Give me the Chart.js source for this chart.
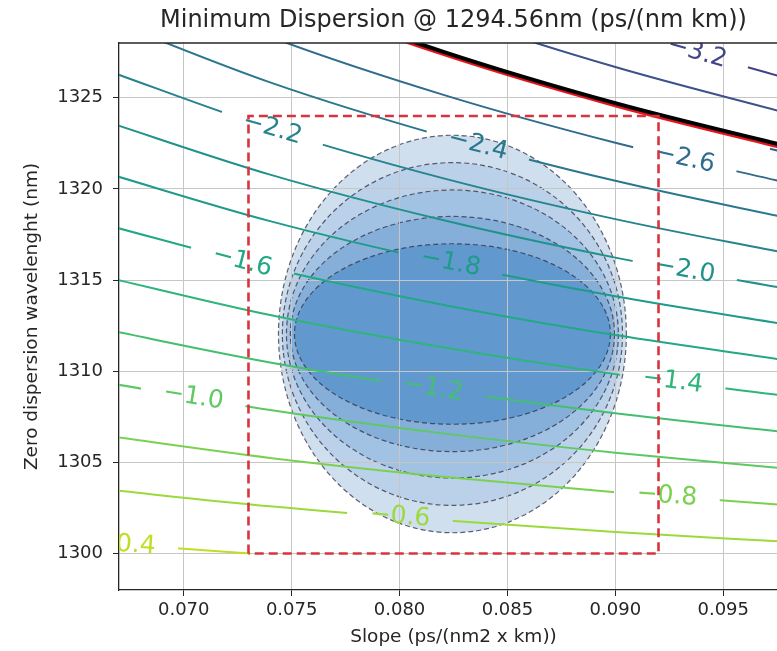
<!DOCTYPE html>
<html><head><meta charset="utf-8">
<script src="https://cdn.jsdelivr.net/npm/chart.js@4.4.1/dist/chart.umd.min.js"></script>
<style>
html,body{margin:0;padding:0;background:#fff;overflow:hidden;width:777px;height:651px}
#wrap{position:relative;width:790px;height:651px}
</style></head>
<body><div id="wrap"><canvas id="c" width="790" height="651" style="width:790px;height:651px"></canvas></div>
<script>
// ---- axis ticks ----
const slopeTicks = [0.070, 0.075, 0.080, 0.085, 0.090, 0.095];
const zdwTicks = [1300, 1305, 1310, 1315, 1320, 1325];

// ---- contour lines of dispersion (zero-dispersion wavelength read at these slopes) ----
const slopes = [0.066, 0.074, 0.082, 0.090, 0.098];
const slopes04 = [0.066, 0.070, 0.0731];
const lvl_0_4 = [1300.58, 1300.26, 1300.00];
const lvl_0_6 = [1303.56, 1302.59, 1301.82, 1301.18, 1300.64];
const lvl_0_8 = [1306.52, 1305.24, 1304.21, 1303.36, 1302.65];
const lvl_1_0 = [1309.45, 1307.87, 1306.59, 1305.53, 1304.65];
const lvl_1_2 = [1312.37, 1310.48, 1308.95, 1307.69, 1306.64];
const lvl_1_4 = [1315.27, 1313.08, 1311.31, 1309.84, 1308.62];
const lvl_1_6 = [1318.15, 1315.66, 1313.65, 1311.98, 1310.59];
const lvl_1_8 = [1321.01, 1318.23, 1315.97, 1314.11, 1312.55];
const lvl_2_0 = [1323.85, 1320.78, 1318.29, 1316.23, 1314.50];
const lvl_2_2 = [1326.68, 1323.32, 1320.59, 1318.34, 1316.45];
const lvl_2_4 = [1329.49, 1325.84, 1322.89, 1320.44, 1318.39];
const lvl_2_6 = [1332.28, 1328.34, 1325.17, 1322.53, 1320.32];
const lvl_2_8 = [1335.04, 1330.84, 1327.44, 1324.61, 1322.23];
const lvl_3_0 = [1337.81, 1333.32, 1329.69, 1326.68, 1324.14];
const lvl_3_2 = [1340.54, 1335.80, 1331.93, 1328.74, 1326.05];
const levelValues = [-0.4, -0.6, -0.8, -1.0, -1.2, -1.4, -1.6, -1.8, -2.0, -2.2, -2.4, -2.6, -2.8, -3.0, -3.2];
const levelColors = ['#bddf26', '#9bd93c', '#7ad151', '#5ec962', '#44bf70', '#2fb47c', '#22a884', '#1e9c89',
                     '#21918c', '#25848e', '#2a788e', '#2f6c8e', '#355f8d', '#3b528b', '#414487'];

// ---- spec limit line (red under black) ----
const limitRed = [1335.04, 1330.84, 1327.44, 1324.61, 1322.23];
const limitBlack = [1335.13, 1330.93, 1327.53, 1324.70, 1322.32];

// ---- red dashed box ----
const boxSlope = [0.073, 0.073, 0.092, 0.092, 0.073];
const boxZdw = [1300, 1324, 1324, 1300, 1300];

// ---- filled density blob (nested ellipses, outer to inner) ----
const blobSlope = 0.08245;
const blobZdw = 1312.04;
const blobRx = [0.00806, 0.00788, 0.00769, 0.00751, 0.00732];
const blobRy = [10.9, 9.4, 7.9, 6.45, 4.95];
const blobFill = ['#d0dfed', '#bad1e9', '#a1c2e2', '#85afd9', '#6199cf'];

// ---- inline contour labels ----
const labelLevel = [-0.4, -0.6, -0.8, -1.0, -1.2, -1.4, -1.6, -1.8, -2.0, -2.2, -2.4, -2.6, -2.8, -3.2];
const labelSlope = [0.06729, 0.08002, 0.09239, 0.07044, 0.08155, 0.09266, 0.07271, 0.08236, 0.09322, 0.07410, 0.08363, 0.09322, 0.09840, 0.09378];
const labelZdw = [1300.48, 1302.01, 1303.15, 1308.57, 1309.04, 1309.43, 1316.00, 1315.93, 1315.53, 1323.29, 1322.39, 1321.64, 1321.75, 1327.47];

const FONT = 'DejaVu Sans';
Chart.defaults.font.family = FONT;

const levelSeries = [lvl_0_4, lvl_0_6, lvl_0_8, lvl_1_0, lvl_1_2, lvl_1_4, lvl_1_6, lvl_1_8, lvl_2_0, lvl_2_2, lvl_2_4, lvl_2_6, lvl_2_8, lvl_3_0, lvl_3_2];
const levelX = levelSeries.map((s, i) => i === 0 ? slopes04 : slopes);

const datasets = levelSeries.map((ys, i) => ({
  label: 'D ' + levelValues[i],
  data: ys.map((y, j) => ({x: levelX[i][j], y})),
  showLine: true, borderColor: levelColors[i], borderWidth: 2,
  pointRadius: 0, pointHoverRadius: 0, cubicInterpolationMode: 'monotone', order: 10
}));
const NC = datasets.length;
datasets.push({label: 'limit red', data: limitRed.map((y, j) => ({x: slopes[j], y})), showLine: true,
  borderColor: '#e3161e', borderWidth: 5, pointRadius: 0, cubicInterpolationMode: 'monotone', order: 3});
datasets.push({label: 'limit black', data: limitBlack.map((y, j) => ({x: slopes[j], y})), showLine: true,
  borderColor: '#000000', borderWidth: 4, pointRadius: 0, cubicInterpolationMode: 'monotone', order: 2});
datasets.push({label: 'box', data: boxZdw.map((y, j) => ({x: boxSlope[j], y})), showLine: true,
  borderColor: '#d8343f', borderWidth: 2.6, borderDash: [9, 5], pointRadius: 0, tension: 0, order: 1});
const RED_IDX = NC;

function labelGeom(chart) {
  const xs = chart.scales.x, ys = chart.scales.y;
  return labelLevel.map((lv, k) => {
    const li = levelValues.indexOf(lv);
    const x = xs.getPixelForValue(labelSlope[k]);
    const y = ys.getPixelForValue(labelZdw[k]);
    const pts = chart.getDatasetMeta(li).data;
    let a = 0;
    for (let j = 0; j < pts.length - 1; j++) {
      if ((x >= pts[j].x && x <= pts[j + 1].x) || j === pts.length - 2) {
        a = Math.atan2(pts[j + 1].y - pts[j].y, pts[j + 1].x - pts[j].x); break;
      }
    }
    return {x, y, a, text: '\u2212' + Math.abs(lv).toFixed(1), color: levelColors[li], gap: lv !== -2.8};
  });
}

const deco = {
  id: 'deco',
  beforeDraw(chart) {
    const ctx = chart.ctx, xs = chart.scales.x, ys = chart.scales.y, ca = chart.chartArea;
    const cx = xs.getPixelForValue(blobSlope), cy = ys.getPixelForValue(blobZdw);
    ctx.save();
    ctx.beginPath(); ctx.rect(ca.left, ca.top, ca.right - ca.left, ca.bottom - ca.top); ctx.clip();
    for (let i = 0; i < blobRx.length; i++) {
      const rx = xs.getPixelForValue(blobSlope + blobRx[i]) - cx;
      const ry = cy - ys.getPixelForValue(blobZdw + blobRy[i]);
      ctx.beginPath(); ctx.ellipse(cx, cy, rx, ry, 0, 0, Math.PI * 2);
      ctx.fillStyle = blobFill[i]; ctx.fill();
    }
    ctx.setLineDash([5, 3]); ctx.lineWidth = 1.2; ctx.strokeStyle = 'rgba(45,45,70,0.75)';
    for (let i = 0; i < blobRx.length; i++) {
      const rx = xs.getPixelForValue(blobSlope + blobRx[i]) - cx;
      const ry = cy - ys.getPixelForValue(blobZdw + blobRy[i]);
      ctx.beginPath(); ctx.ellipse(cx, cy, rx, ry, 0, 0, Math.PI * 2); ctx.stroke();
    }
    ctx.restore();
  },
  beforeDatasetDraw(chart, args) {
    const ctx = chart.ctx;
    if (args.index < NC) {
      const geo = labelGeom(chart);
      ctx.save();
      ctx.beginPath();
      ctx.rect(-10, -10, chart.width + 20, chart.height + 20);
      geo.forEach(g => {
        if (!g.gap) return;
        const c = Math.cos(g.a), s = Math.sin(g.a), hw = 53, hh = 13;
        const p = [[-hw, -hh], [hw, -hh], [hw, hh], [-hw, hh]].map(([u, v]) => [g.x + u * c - v * s, g.y + u * s + v * c]);
        ctx.moveTo(p[0][0], p[0][1]);
        for (let k = 1; k < 4; k++) ctx.lineTo(p[k][0], p[k][1]);
        ctx.closePath();
      });
      ctx.clip('evenodd');
    } else if (args.index === RED_IDX) {
      const geo = labelGeom(chart), ca = chart.chartArea;
      ctx.save();
      ctx.beginPath(); ctx.rect(ca.left, ca.top, ca.right - ca.left, ca.bottom - ca.top); ctx.clip();
      ctx.font = '25px "' + FONT + '"';
      ctx.textAlign = 'center'; ctx.textBaseline = 'middle';
      geo.forEach(g => {
        ctx.save(); ctx.translate(g.x, g.y); ctx.rotate(g.a);
        ctx.fillStyle = g.color; ctx.fillText(g.text, 0, 0); ctx.restore();
      });
      ctx.restore();
    }
  },
  afterDatasetDraw(chart, args) {
    if (args.index < NC) chart.ctx.restore();
  },
  afterDraw(chart) {
    const ctx = chart.ctx, ca = chart.chartArea;
    ctx.save();
    ctx.strokeStyle = '#262626'; ctx.lineWidth = 1.3;
    ctx.beginPath(); ctx.moveTo(ca.left, ca.top); ctx.lineTo(ca.right, ca.top); ctx.stroke();
    ctx.fillStyle = '#262626'; ctx.font = '24px "' + FONT + '"';
    ctx.textAlign = 'center'; ctx.textBaseline = 'middle';
    ctx.fillText('Minimum Dispersion @ 1294.56nm (ps/(nm km))', (ca.left + ca.right) / 2, 21);
    ctx.restore();
  }
};

new Chart(document.getElementById('c'), {
  type: 'scatter',
  data: {datasets},
  options: {
    responsive: false, animation: false, events: [],
    layout: {padding: {left: 0, right: 2, top: 43, bottom: 0}},
    plugins: {legend: {display: false}, tooltip: {enabled: false}, title: {display: false}},
    scales: {
      x: {
        type: 'linear', min: 0.067, max: 0.098,
        afterBuildTicks: s => { s.ticks = slopeTicks.map(v => ({value: v})); },
        afterFit: s => { s.height = 61; },
        ticks: {callback: v => Number(v).toFixed(3), font: {size: 18}, color: '#262626', padding: 4, maxRotation: 0, autoSkip: false},
        grid: {color: '#c6c6c6', lineWidth: 1, tickColor: '#262626', tickLength: 6, drawTicks: true},
        border: {display: true, color: '#262626', width: 1.3},
        title: {display: true, text: 'Slope (ps/(nm2 x km))', font: {size: 18.5}, color: '#262626', padding: {top: 0, bottom: 3}}
      },
      y: {
        type: 'linear', min: 1298, max: 1328,
        afterBuildTicks: s => { s.ticks = zdwTicks.map(v => ({value: v})); },
        afterFit: s => { s.width = 119; },
        ticks: {callback: v => String(v), font: {size: 18}, color: '#262626', padding: 10, autoSkip: false},
        grid: {color: '#c6c6c6', lineWidth: 1, tickColor: '#262626', tickLength: 6, drawTicks: true},
        border: {display: true, color: '#262626', width: 1.3},
        title: {display: true, text: 'Zero dispersion wavelenght (nm)', font: {size: 18.5}, color: '#262626', padding: {top: 21, bottom: 0}}
      }
    }
  },
  plugins: [deco]
});
</script>
</body></html>
